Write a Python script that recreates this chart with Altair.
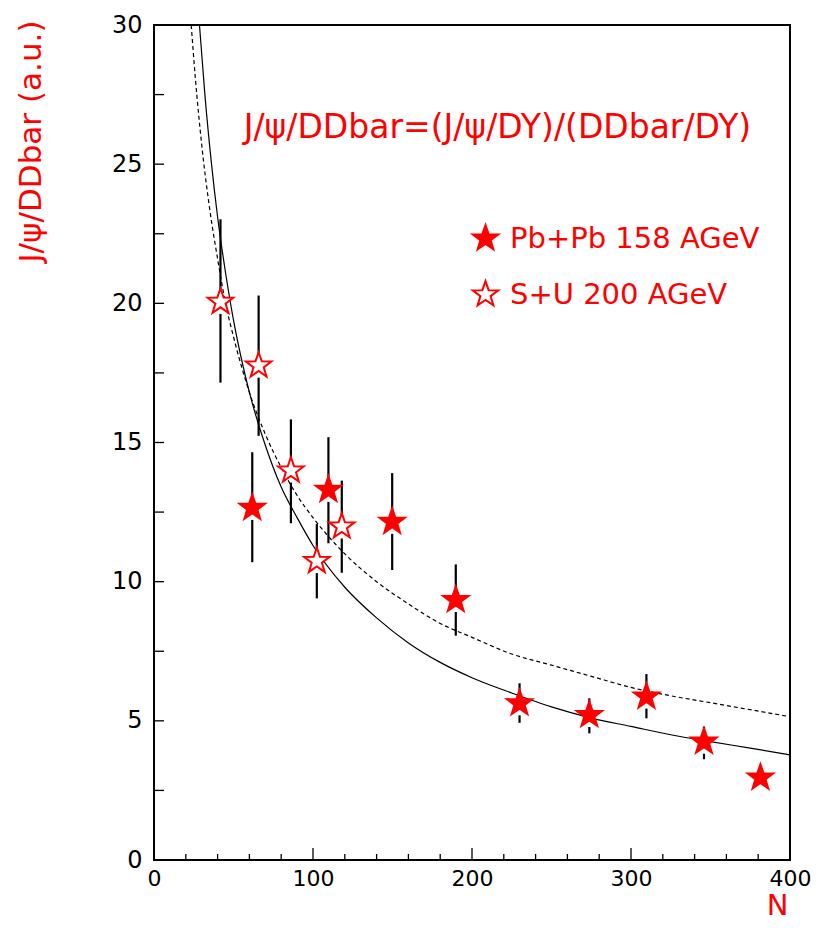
import altair as alt
import pandas as pd

# ---- data ----
pb_n   = [61.8, 109.7, 149.8, 189.8, 229.9, 273.8, 309.7, 345.9, 381.4]
pb_val = [12.65, 13.3, 12.15, 9.34, 5.63, 5.21, 5.87, 4.25, 2.96]
pb_lo  = [10.7, 11.38, 10.42, 8.06, 4.93, 4.55, 5.09, 3.62, 2.96]
pb_hi  = [14.65, 15.19, 13.9, 10.62, 6.35, 5.81, 6.68, 4.79, 2.96]

su_n   = [41.8, 65.8, 86.1, 102.4, 118.1]
su_val = [20.05, 17.76, 13.99, 10.74, 11.98]
su_lo  = [17.15, 15.24, 12.1, 9.4, 10.32]
su_hi  = [23.02, 20.28, 15.83, 12.07, 13.63]

solid_n = [28.6, 32, 36, 40, 45, 50, 55, 60, 70, 80, 90, 100, 120, 140, 160,
           180, 200, 225, 250, 275, 300, 325, 350, 375, 400]
solid_v = [30.0, 27.5, 25.1, 23.1, 21.1, 19.4, 18.0, 16.8, 14.9, 13.4, 12.3,
           11.3, 9.8, 8.7, 7.8, 7.1, 6.55, 6.0, 5.5, 5.1, 4.8, 4.5, 4.25, 4.02, 3.78]

dashed_n = [23.4, 26, 30, 35, 40, 45, 50, 60, 70, 80, 90, 100, 120, 140, 160,
            180, 200, 225, 250, 275, 300, 325, 350, 375, 400]
dashed_v = [30.0, 28.1, 25.7, 23.4, 21.6, 20.0, 18.8, 16.8, 15.3, 14.1, 13.1,
            12.3, 11.0, 10.0, 9.2, 8.5, 8.0, 7.4, 7.0, 6.6, 6.2, 5.9, 5.65, 5.4, 5.15]

series_names = ["Pb+Pb 158 AGeV", "S+U 200 AGeV"]
series_fill = ["red", "white"]

y_labels = [0, 5, 10, 15, 20, 25, 30]
y_ticks = [0, 2.5, 5, 7.5, 10, 12.5, 15, 17.5, 20, 22.5, 25, 27.5, 30]
x_labels = [0, 100, 200, 300, 400]
x_minor = [20, 40, 60, 80, 120, 140, 160, 180, 220, 240, 260, 280, 320, 340, 360, 380]

formula_text = "J/ψ/DDbar=(J/ψ/DY)/(DDbar/DY)"
formula_n = 216
formula_v = 26.3

y_title = "J/ψ/DDbar (a.u.)"
x_title = "N"

W, H = 636, 835
FONT = "DejaVu Sans"
STAR = ("M0,-1 L0.2351,-0.3236 L0.9511,-0.309 L0.3804,0.1236 L0.5878,0.809 "
        "L0,0.4 L-0.5878,0.809 L-0.3804,0.1236 L-0.9511,-0.309 L-0.2351,-0.3236 Z")

# ---- tables ----
pts = pd.DataFrame({
    "n": pb_n + su_n,
    "v": pb_val + su_val,
    "lo": pb_lo + su_lo,
    "hi": pb_hi + su_hi,
    "series": [series_names[0]] * len(pb_n) + [series_names[1]] * len(su_n),
})
solid = pd.DataFrame({"n": solid_n, "v": solid_v})
dashed = pd.DataFrame({"n": dashed_n, "v": dashed_v})
yt = pd.DataFrame({"v": y_ticks})
xt_major = pd.DataFrame({"n": x_labels})
xt_minor = pd.DataFrame({"n": x_minor})
ann = pd.DataFrame({"n": [formula_n], "v": [formula_v], "t": [formula_text]})

xscale = alt.Scale(domain=[0, 400], nice=False, zero=False)
yscale = alt.Scale(domain=[0, 30], nice=False, zero=False)

xaxis = alt.Axis(values=x_labels, labelPadding=8, labelFlush=False,
                 labelFontSize=22, title=x_title,
                 titleColor="red", titleFont=FONT, titleFontSize=29,
                 titleFontWeight="normal", titleX=634, titleY=54,
                 titleAlign="right", titleBaseline="alphabetic", titleAnchor="end")
yaxis = alt.Axis(values=y_labels, labelPadding=12, labelFlush=False,
                 labelFontSize=24, title=y_title,
                 titleColor="red", titleFont=FONT, titleFontSize=31,
                 titleFontWeight="normal", titleX=-123, titleY=-5,
                 titleAngle=270, titleAlign="right", titleBaseline="middle",
                 titleAnchor="end")

X = lambda f: alt.X(f, type="quantitative", scale=xscale, axis=xaxis)
Y = lambda f: alt.Y(f, type="quantitative", scale=yscale, axis=yaxis)

line_solid = alt.Chart(solid).mark_line(color="black", strokeWidth=1.2,
                                        interpolate="monotone").encode(
    x=X("n"), y=Y("v"))
line_dashed = alt.Chart(dashed).mark_line(color="black", strokeWidth=1.2,
                                          interpolate="monotone",
                                          strokeDash=[4, 3]).encode(
    x=X("n"), y=Y("v"))

ytick = alt.Chart(yt).mark_rule(color="black", strokeWidth=1.3).encode(
    y=Y("v"), x=alt.value(0), x2=alt.value(10))
xtick_major = alt.Chart(xt_major).mark_rule(color="black", strokeWidth=1.3).encode(
    x=X("n"), y=alt.value(H), y2=alt.value(H - 12))
xtick_minor = alt.Chart(xt_minor).mark_rule(color="black", strokeWidth=1.3).encode(
    x=X("n"), y=alt.value(H), y2=alt.value(H - 6))

err_lo = alt.Chart(pts).transform_filter("datum.hi > datum.v").mark_rule(
    color="black", strokeWidth=2.2, yOffset=12).encode(
    x=X("n"), y=Y("v"), y2="lo")
err_hi = alt.Chart(pts).transform_filter("datum.hi > datum.v").mark_rule(
    color="black", strokeWidth=2.2, yOffset=-12).encode(
    x=X("n"), y=Y("v"), y2="hi")

points = alt.Chart(pts).mark_point(shape=STAR, size=720, filled=True,
                                   stroke="red", strokeWidth=2, opacity=1).encode(
    x=X("n"), y=Y("v"),
    fill=alt.Fill("series:N",
                  scale=alt.Scale(domain=series_names, range=series_fill),
                  legend=alt.Legend(orient="none", legendX=317, legendY=199,
                                    title=None, labelFont=FONT, labelFontSize=29,
                                    labelColor="red", labelLimit=0,
                                    symbolType=STAR,
                                    symbolSize=720, symbolStrokeColor="red",
                                    symbolStrokeWidth=2, rowPadding=23,
                                    labelOffset=10, padding=0)))

text = alt.Chart(ann).mark_text(font=FONT, fontSize=33, color="red",
                                align="center", baseline="middle").encode(
    x=X("n"), y=Y("v"), text="t:N")

chart = alt.layer(line_solid, line_dashed, ytick, xtick_major, xtick_minor,
                  err_lo, err_hi, points, text).properties(
    width=W, height=H,
    autosize=alt.AutoSizeParams(type="none"),
    padding={"left": 146, "top": 17, "right": 21, "bottom": 60},
    background="white",
).configure_view(stroke="black", strokeWidth=2).configure_axis(
    grid=False, domain=False, ticks=False, tickSize=0,
    labelFont=FONT, labelColor="black")

chart.save("out.html", embed_options={"renderer": "svg", "actions": False})
